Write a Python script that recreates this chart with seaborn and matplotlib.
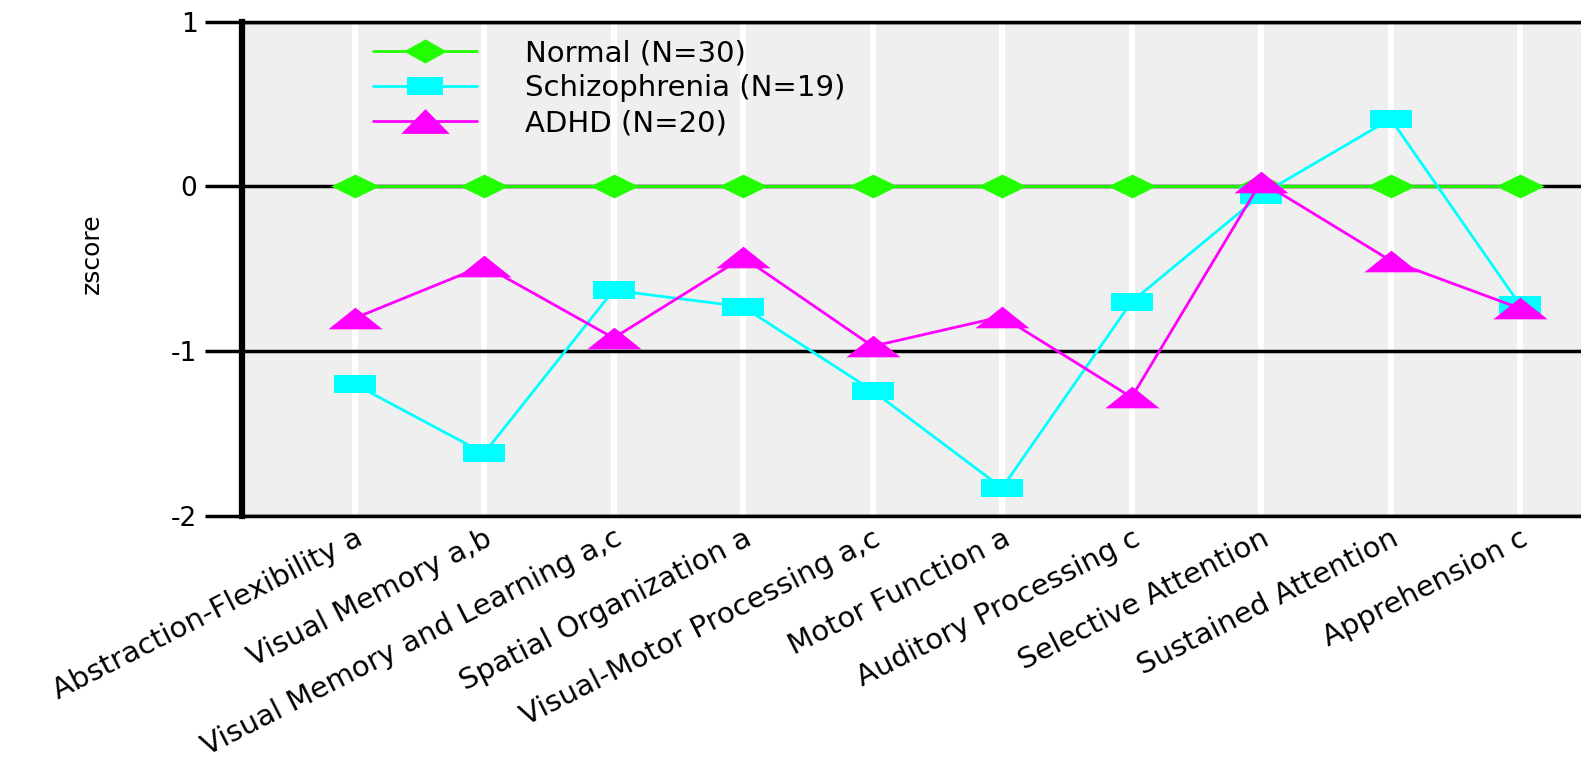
import numpy as np
import pandas as pd
import matplotlib
matplotlib.use('Agg')
import matplotlib.pyplot as plt
import seaborn as sns
from matplotlib.lines import Line2D

# Chart data
domains = ['Abstraction-Flexibility a', 'Visual Memory a,b', 'Visual Memory and Learning a,c',
           'Spatial Organization a', 'Visual-Motor Processing a,c', 'Motor Function a',
           'Auditory Processing c', 'Selective Attention', 'Sustained Attention', 'Apprehension c']

normal = [0, 0, 0, 0, 0, 0, 0, 0, 0, 0]
schizophrenia = [-1.20, -1.62, -0.63, -0.73, -1.24, -1.83, -0.70, -0.05, 0.41, -0.72]
adhd = [-0.80, -0.48, -0.92, -0.43, -0.97, -0.79, -1.28, 0.03, -0.45, -0.74]

group_labels = ['Normal (N=30)', 'Schizophrenia (N=19)', 'ADHD (N=20)']
y_ticks = [-2, -1, 0, 1]

# Build long data frame
plot_df = pd.concat([pd.DataFrame({'domain': domains, 'zscore': vals, 'group': lab})
                     for vals, lab in zip([normal, schizophrenia, adhd], group_labels)])\
    .reset_index(drop = True)

# Wide-looking markers (original picture is stretched sideways)
diamond = np.array([(-1, 0), (0, 0.49), (1, 0), (0, -0.49), (-1, 0)])
square = np.array([(-1, -0.43), (1, -0.43), (1, 0.43), (-1, 0.43), (-1, -0.43)])
triangle = np.array([(-1, -0.4), (1, -0.4), (0, 0.4), (-1, -0.4)])

styles = {'Normal (N=30)': dict(color = '#22ff00', marker = diamond, ms = 35),
          'Schizophrenia (N=19)': dict(color = '#00ffff', marker = square, ms = 30),
          'ADHD (N=20)': dict(color = '#ff00ff', marker = triangle, ms = 39)}

# Legend markers are a bit less stretched
legend_ms = {'Normal (N=30)': (np.array([(-1, 0), (0, 0.56), (1, 0), (0, -0.56), (-1, 0)]), 31),
             'Schizophrenia (N=19)': (np.array([(-1, -0.51), (1, -0.51), (1, 0.51), (-1, 0.51), (-1, -0.51)]), 26.6),
             'ADHD (N=20)': (np.array([(-1, -0.51), (1, -0.51), (0, 0.51), (-1, -0.51)]), 35)}

sns.set_theme(style = 'white')
plt.rcParams['font.family'] = ['DejaVu Sans']
plt.rcParams['axes.unicode_minus'] = False
plt.rcParams['text.color'] = 'black'

fig = plt.figure(figsize = (15.81, 7.77), dpi = 100)
ax = fig.add_axes([0.153, 0.336, 0.847, 0.636])
ax.set_facecolor('#efefef')

for lab in group_labels:
    st = styles[lab]
    sns.lineplot(ax = ax,
                 data = plot_df[plot_df['group'] == lab],
                 x = 'domain',
                 y = 'zscore',
                 color = st['color'],
                 marker = st['marker'],
                 markersize = st['ms'],
                 markeredgewidth = 0,
                 markerfacecolor = st['color'],
                 linewidth = 2,
                 sort = False,
                 zorder = 3)

ax.set_xlim(-0.87, 9.47)
ax.set_ylim(-2, 1)
ax.set_yticks(y_ticks)
ax.set_yticklabels([str(t) for t in y_ticks], fontsize = 19, color = 'black')

# Grid: white vertical, black horizontal
ax.xaxis.grid(True, color = 'white', linewidth = 4.3)
ax.yaxis.grid(True, color = 'black', linewidth = 2.5)
ax.set_axisbelow(True)

ax.tick_params(axis = 'y', length = 27, width = 2.5, color = 'black', pad = 5, left = True)
ax.tick_params(axis = 'x', length = 0, pad = 6)

plt.setp(ax.get_xticklabels(), rotation = 27, ha = 'right', va = 'top',
         rotation_mode = 'anchor', fontsize = 21, color = 'black')

for side in ['top', 'bottom']:
    ax.spines[side].set_color('black')
    ax.spines[side].set_linewidth(2.5)
ax.spines['right'].set_visible(False)
ax.spines['left'].set_color('black')
ax.spines['left'].set_linewidth(4.5)

ax.set_xlabel('')
ax.set_ylabel('zscore', fontsize = 18, color = 'black')
ax.yaxis.set_label_coords(-0.103, 0.53)

# Legend
handles = [Line2D([0], [0], color = styles[lab]['color'], linewidth = 2,
                  marker = legend_ms[lab][0], markersize = legend_ms[lab][1],
                  markeredgewidth = 0, markerfacecolor = styles[lab]['color'])
           for lab in group_labels]
leg = ax.legend(handles, group_labels, loc = 'upper left', bbox_to_anchor = (0.098, 0.965),
                frameon = False, fontsize = 21, handlelength = 3.55, handletextpad = 1.65,
                labelspacing = 0.25, borderpad = 0, borderaxespad = 0)
for t in leg.get_texts():
    t.set_color('black')

fig.savefig('out.png', dpi = 100)
plt.close()
